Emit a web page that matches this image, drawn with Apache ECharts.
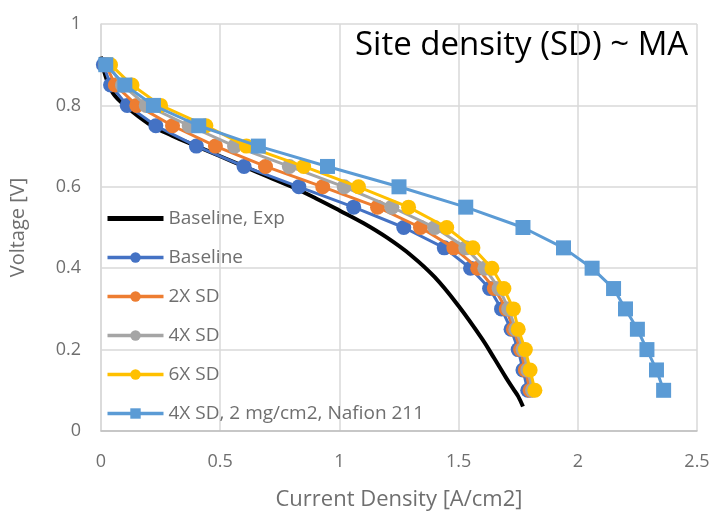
<!DOCTYPE html>
<html>
<head>
<meta charset="utf-8">
<script src="https://cdn.jsdelivr.net/npm/echarts@6/dist/echarts.min.js"></script>
<style>
  html, body { margin: 0; padding: 0; background: #fff; }
  #chart { width: 713px; height: 516px; }
</style>
</head>
<body>
<div id="chart"></div>
<script>
// Polarization curves: cell voltage vs. current density for varying site density
const seriesNames = [
  'Baseline, Exp',
  'Baseline',
  '2X SD',
  '4X SD',
  '6X SD',
  '4X SD, 2 mg/cm2, Nafion 211'
];

// Voltage levels used by the model runs [V]
const voltages = [0.9, 0.85, 0.8, 0.75, 0.7, 0.65, 0.6, 0.55, 0.5, 0.45, 0.4, 0.35, 0.3, 0.25, 0.2, 0.15, 0.1];

// Current density [A/cm2] at each voltage level
const baselineCurrent = [0.01, 0.04, 0.11, 0.23, 0.40, 0.60, 0.83, 1.06, 1.27, 1.44, 1.55, 1.63, 1.68, 1.72, 1.75, 1.77, 1.79];
const sd2xCurrent     = [0.02, 0.06, 0.15, 0.30, 0.48, 0.69, 0.93, 1.16, 1.34, 1.48, 1.58, 1.65, 1.70, 1.73, 1.76, 1.78, 1.80];
const sd4xCurrent     = [0.03, 0.09, 0.19, 0.37, 0.56, 0.79, 1.02, 1.22, 1.40, 1.53, 1.61, 1.67, 1.71, 1.74, 1.77, 1.79, 1.81];
const sd6xCurrent     = [0.04, 0.13, 0.25, 0.44, 0.61, 0.85, 1.08, 1.29, 1.45, 1.56, 1.64, 1.69, 1.73, 1.75, 1.78, 1.80, 1.82];
const nafionCurrent   = [0.02, 0.10, 0.22, 0.41, 0.66, 0.95, 1.25, 1.53, 1.77, 1.94, 2.06, 2.15, 2.20, 2.25, 2.29, 2.33, 2.36];

// Measured baseline curve (current density, voltage)
const expCurrent = [0.00, 0.02, 0.05, 0.10, 0.20, 0.30, 0.40, 0.50, 0.60, 0.70, 0.80, 0.90, 1.00, 1.10, 1.20, 1.30, 1.40, 1.50, 1.60, 1.65, 1.70, 1.73, 1.75, 1.77];
const expVoltage = [0.92, 0.87, 0.83, 0.80, 0.755, 0.725, 0.70, 0.675, 0.65, 0.625, 0.60, 0.572, 0.542, 0.511, 0.475, 0.432, 0.378, 0.307, 0.225, 0.178, 0.13, 0.103, 0.085, 0.06];

const xTicks = [0, 0.5, 1, 1.5, 2, 2.5];
const yTicks = [0, 0.2, 0.4, 0.6, 0.8, 1];

const colors = ['#000000', '#4472C4', '#ED7D31', '#A5A5A5', '#FFC000', '#5B9BD5'];
const FONT = 'Open Sans';
const TEXT_GRAY = '#6F6F6F';

function pairs(xs, ys) { return xs.map((x, i) => [x, ys[i]]); }

const modelSets = [baselineCurrent, sd2xCurrent, sd4xCurrent, sd6xCurrent, nafionCurrent];

const series = [{
  name: seriesNames[0],
  type: 'line',
  data: pairs(expCurrent, expVoltage),
  smooth: 0.4,
  showSymbol: false,
  symbol: 'none',
  lineStyle: { width: 4, color: colors[0] },
  itemStyle: { color: colors[0] },
  z: 2
}];
modelSets.forEach((cur, i) => {
  const isSquare = i === 4;
  series.push({
    name: seriesNames[i + 1],
    type: 'line',
    data: pairs(cur, voltages),
    symbol: isSquare ? 'rect' : 'circle',
    symbolSize: 15,
    showSymbol: true,
    lineStyle: { width: 3, color: colors[i + 1] },
    itemStyle: { color: colors[i + 1], borderWidth: 0 },
    z: 3 + i
  });
});

// Legend entries; the measured curve shows only its (thicker) line
const legendData = seriesNames.map((n, i) => i === 0
  ? { name: n, itemStyle: { opacity: 0 }, lineStyle: { width: 5 } }
  : { name: n, lineStyle: { width: 3.5 } });

const chart = echarts.init(document.getElementById('chart'), null, { renderer: 'canvas' });
chart.setOption({
  animation: false,
  color: colors,
  textStyle: { fontFamily: FONT },
  grid: { left: 97, right: 16, top: 24, bottom: 85, containLabel: false },
  xAxis: {
    type: 'value',
    min: xTicks[0], max: xTicks[xTicks.length - 1], interval: 0.5,
    name: 'Current Density [A/cm2]',
    nameLocation: 'middle',
    nameGap: 58,
    nameTextStyle: { color: TEXT_GRAY, fontSize: 22, fontFamily: FONT },
    axisLine: { show: true, lineStyle: { color: '#BFBFBF', width: 1.5 } },
    axisTick: { show: false },
    axisLabel: { color: TEXT_GRAY, fontSize: 18, margin: 22, fontFamily: FONT },
    splitLine: { show: true, lineStyle: { color: '#D9D9D9', width: 1.5 } }
  },
  yAxis: {
    type: 'value',
    min: yTicks[0], max: yTicks[yTicks.length - 1], interval: 0.2,
    name: 'Voltage [V]',
    nameLocation: 'middle',
    nameGap: 73,
    nameRotate: 90,
    nameTextStyle: { color: TEXT_GRAY, fontSize: 20, fontFamily: FONT },
    axisLine: { show: true, lineStyle: { color: '#D9D9D9', width: 1.5 } },
    axisTick: { show: false },
    axisLabel: { color: TEXT_GRAY, fontSize: 18, margin: 20, fontFamily: FONT },
    splitLine: { show: true, lineStyle: { color: '#D9D9D9', width: 1.5 } }
  },
  legend: {
    orient: 'vertical',
    left: 100,
    top: 201,
    itemWidth: 56,
    itemHeight: 13,
    itemGap: 14,
    data: legendData,
    lineStyle: { width: 'inherit' },
    textStyle: { color: TEXT_GRAY, fontSize: 19, fontFamily: FONT, lineHeight: 25 }
  },
  graphic: [{
    type: 'text',
    left: 355,
    top: 29,
    style: { text: 'Site density (SD) ~ MA', fill: '#000', fontSize: 33, fontFamily: FONT }
  }],
  series: series
});
</script>
</body>
</html>
